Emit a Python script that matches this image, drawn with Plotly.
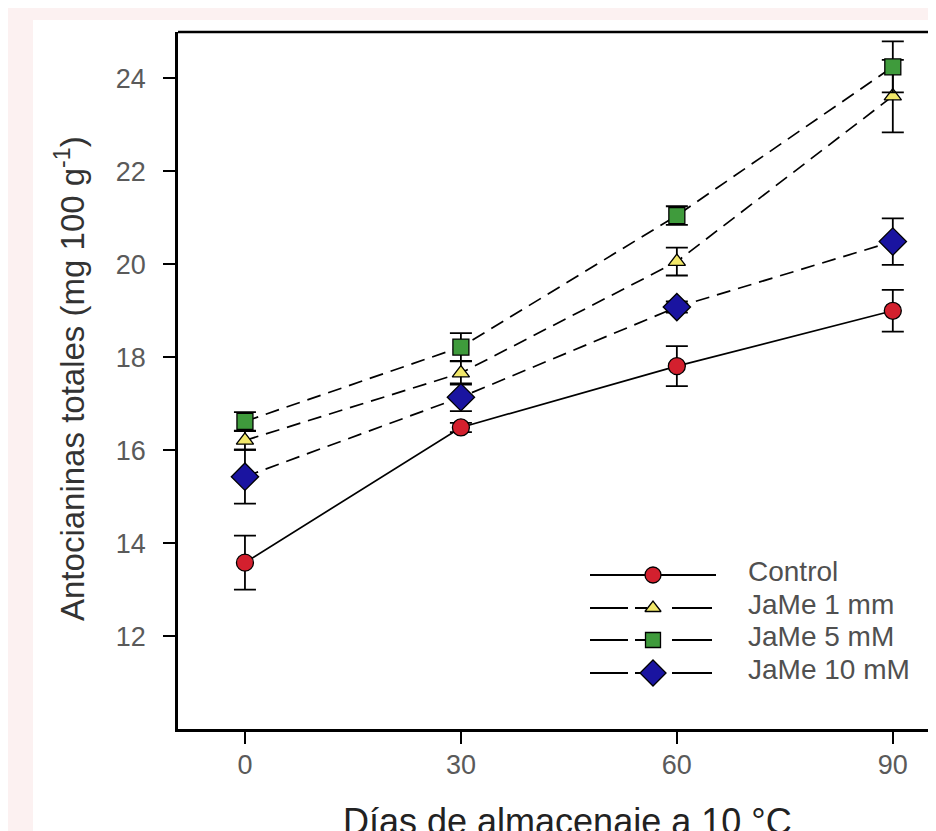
import plotly.graph_objects as go

days = [0, 30, 60, 90]
x_ticks = [0, 30, 60, 90]
y_ticks = [12, 14, 16, 18, 20, 22, 24]

names = ["Control", "JaMe 1 mm", "JaMe 5 mM", "JaMe 10 mM"]
control = [13.58, 16.49, 17.81, 19.0]
control_err = [0.58, 0.1, 0.43, 0.45]
jame1 = [16.21, 17.66, 20.06, 23.62]
jame1_err = [0.2, 0.25, 0.3, 0.78]
jame5 = [16.62, 18.22, 21.05, 24.25]
jame5_err = [0.2, 0.3, 0.2, 0.55]
jame10 = [15.43, 17.14, 19.08, 20.49]
jame10_err = [0.58, 0.3, 0.12, 0.5]

colors = {"Control": "#d3202e", "JaMe 1 mm": "#f2e86a", "JaMe 5 mM": "#3f9b3c", "JaMe 10 mM": "#1a14a0"}
symbols = {"Control": "circle", "JaMe 1 mm": "triangle-up", "JaMe 5 mM": "square", "JaMe 10 mM": "diamond"}
sizes = {"Control": 17, "JaMe 1 mm": 15, "JaMe 5 mM": 16, "JaMe 10 mM": 21}
dashes = {"Control": "solid", "JaMe 1 mm": "14px,8px", "JaMe 5 mM": "14px,8px", "JaMe 10 mM": "14px,8px"}
series = {"Control": (control, control_err), "JaMe 1 mm": (jame1, jame1_err),
          "JaMe 5 mM": (jame5, jame5_err), "JaMe 10 mM": (jame10, jame10_err)}

# figure is offset by the page's 8px body margin
OFF = 8
W, H = 936 - OFF, 831 - OFF
# plot area in screen pixels
L, R, T, B = 178, 936, 32, 729
ml, mt, mb = L - OFF, T - OFF, H - (B - OFF)


def px(sx):
    return (sx - L) / (R - L)


def py(sy):
    return (B - sy) / (B - T)


FONT = "Liberation Sans, Arial, sans-serif"

fig = go.Figure()
for n in ["Control", "JaMe 1 mm", "JaMe 10 mM", "JaMe 5 mM"]:
    vals, err = series[n]
    fig.add_trace(go.Scatter(
        x=days, y=vals, mode="lines+markers", name=n, showlegend=False,
        line=dict(color="black", width=1.7, dash=dashes[n]),
        marker=dict(symbol=symbols[n], size=sizes[n], color=colors[n],
                    line=dict(color="black", width=1.3)),
        error_y=dict(type="data", array=err, visible=True, color="black",
                     thickness=1.8, width=11),
        cliponaxis=False,
    ))

# custom legend drawn on a pixel-coordinate overlay axis (screen pixels)
leg_rows = [575, 608, 640, 673]
leg_x0, leg_x1, leg_xm, leg_tx = 590, 716, 653, 746
for n, ry in zip(names, leg_rows):
    fig.add_trace(go.Scatter(
        x=[leg_x0, leg_x1], y=[ry, ry], mode="lines", xaxis="x2", yaxis="y2",
        showlegend=False, hoverinfo="skip",
        line=dict(color="black", width=1.8,
                  dash="solid" if n == "Control" else "38px,7px,12px,25px,40px,20px"),
    ))
    fig.add_trace(go.Scatter(
        x=[leg_xm], y=[ry], mode="markers", xaxis="x2", yaxis="y2",
        showlegend=False, hoverinfo="skip",
        marker=dict(symbol=symbols[n], size=sizes[n] - 1, color=colors[n],
                    line=dict(color="black", width=1.3)),
    ))
    fig.add_annotation(x=leg_tx, y=ry - 4, xref="x2", yref="y2", text=n, showarrow=False,
                       xanchor="left", yanchor="middle",
                       font=dict(family=FONT, size=28, color="#505050"))

# axis titles
fig.add_annotation(x=px(567), y=py(821), xref="paper", yref="paper",
                   text="Días de almacenaje a 10 °C", showarrow=False,
                   xanchor="center", yanchor="middle",
                   font=dict(family=FONT, size=36, color="#222222"))
fig.add_annotation(x=px(70), y=py(379), xref="paper", yref="paper",
                   text="Antocianinas totales (mg 100 g<sup>-1</sup>)", showarrow=False,
                   textangle=-90, xanchor="center", yanchor="middle",
                   font=dict(family=FONT, size=33, color="#333333"))

# pinkish frame at left and top
fig.add_shape(type="rect", xref="paper", yref="paper",
              x0=px(0), x1=px(33), y0=py(840), y1=py(0),
              fillcolor="#fcf1f1", line=dict(width=0), layer="below")
fig.add_shape(type="rect", xref="paper", yref="paper",
              x0=px(0), x1=px(940), y0=py(20), y1=py(0),
              fillcolor="#fcf1f1", line=dict(width=0), layer="below")

fig.update_layout(
    width=W, height=H,
    margin=dict(l=ml, r=0, t=mt, b=mb, pad=0),
    paper_bgcolor="white", plot_bgcolor="white",
    font=dict(family=FONT, color="#555555"),
    xaxis=dict(range=[-9.3, 96], tickvals=x_ticks, ticks="outside", ticklen=12, tickwidth=2,
               tickcolor="black", showline=True, linecolor="black", linewidth=2.5,
               mirror=False, showgrid=False, zeroline=False, automargin=False,
               ticklabelstandoff=-2,
               tickfont=dict(size=27, color="#5a5a5a")),
    yaxis=dict(range=[10, 25], tickvals=y_ticks, ticks="outside", ticklen=12, tickwidth=2,
               tickcolor="black", showline=True, linecolor="black", linewidth=2.5,
               showgrid=False, zeroline=False, automargin=False, ticklabelstandoff=12,
               tickfont=dict(size=27, color="#5a5a5a")),
    xaxis2=dict(range=[L, R], overlaying="x", visible=False, fixedrange=True, automargin=False),
    yaxis2=dict(range=[B, T], overlaying="y", visible=False, fixedrange=True, automargin=False),
    showlegend=False,
)
# top border line
fig.add_shape(type="line", xref="paper", yref="paper", x0=0, x1=1, y0=1, y1=1,
              line=dict(color="black", width=2.5))

fig.write_html("out.html")
